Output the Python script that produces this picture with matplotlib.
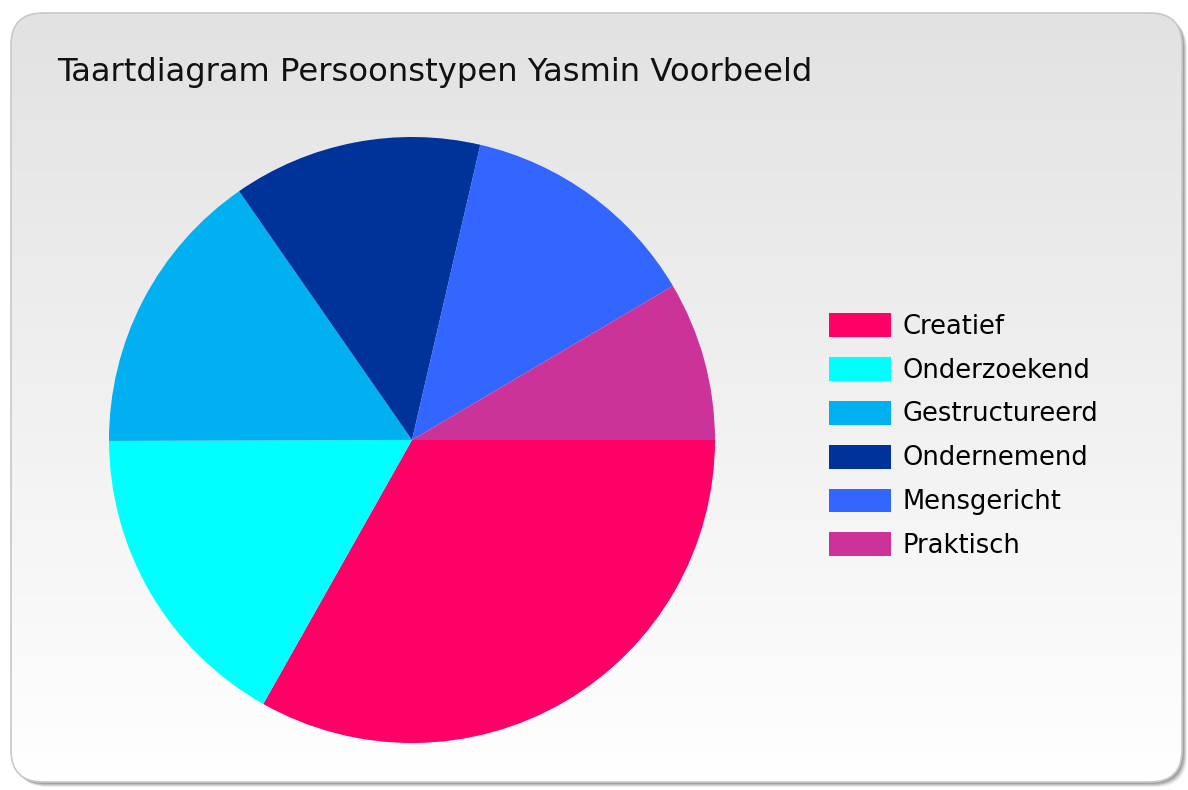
import numpy as np
import matplotlib.pyplot as plt
from matplotlib.patches import FancyBboxPatch, Patch

title = 'Taartdiagram Persoonstypen Yasmin Voorbeeld'
labels = ['Creatief', 'Onderzoekend', 'Gestructureerd', 'Ondernemend', 'Mensgericht', 'Praktisch']
values = [33.2, 16.8, 15.4, 13.3, 12.9, 8.5]
colors = ['#FF0066', '#00FFFF', '#00B0F0', '#003399', '#3366FF', '#CC3399']

W, H = 1188, 790
fig = plt.figure(figsize=(W / 100, H / 100), dpi=100)
fig.patch.set_facecolor('white')

# background panel in pixel coordinates
bg = fig.add_axes([0, 0, 1, 1])
bg.set_xlim(0, W)
bg.set_ylim(H, 0)
bg.axis('off')

x0, y0, x1, y1 = 11, 13, 1182, 782
rad = 32
for off, a in [(5, 0.10), (4, 0.15), (3, 0.2), (2, 0.25)]:
    sh = FancyBboxPatch((x0 + rad + off, y0 + rad + off), x1 - x0 - 2 * rad, y1 - y0 - 2 * rad,
                        boxstyle='round,pad=%d' % rad, fc='#555555', ec='none', alpha=a)
    bg.add_patch(sh)
panel = FancyBboxPatch((x0 + rad, y0 + rad), x1 - x0 - 2 * rad, y1 - y0 - 2 * rad,
                       boxstyle='round,pad=%d' % rad, fc='none', ec='#c8c8c8', lw=1.2, zorder=3)
bg.add_patch(panel)
grad = np.linspace(0, 1, 256).reshape(-1, 1)
img = bg.imshow(grad, cmap=plt.matplotlib.colors.LinearSegmentedColormap.from_list('g', ['#e2e2e2', '#ffffff']),
                extent=(x0, x1, y1, y0), aspect='auto', zorder=2)
img.set_clip_path(panel)

font = 'DejaVu Sans'
bg.text(57, 72, title, fontsize=23.2, family=font, color='#111111', va='center', ha='left', zorder=4)

# pie
cx, cy, r = 412, 440, 303
ax = fig.add_axes([(cx - r) / W, (H - cy - r) / H, 2 * r / W, 2 * r / H])
wedges, _ = ax.pie(values, colors=colors, startangle=0, counterclock=False,
                   wedgeprops=dict(linewidth=0))
ax.set_xlim(-1, 1)
ax.set_ylim(-1, 1)
ax.set_aspect('equal')

handles = [Patch(facecolor=c, edgecolor='none') for c in colors]
leg = fig.legend(handles, labels, loc='upper left', bbox_to_anchor=(829 / W, 1 - 313 / H),
                 frameon=False, prop={'family': font, 'size': 18.5}, borderpad=0, borderaxespad=0,
                 handlelength=2.42, handleheight=1.05, handletextpad=0.45, labelspacing=0.67)

fig.savefig('out.png', dpi=100)
